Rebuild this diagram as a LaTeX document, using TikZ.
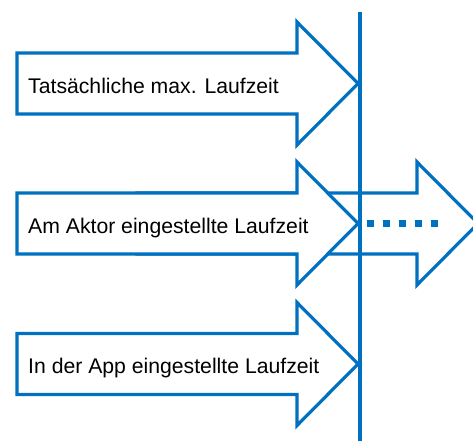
\documentclass[tikz,border=0pt]{standalone}
\usepackage{fontspec}
\setmainfont{Liberation Sans}
\definecolor{aktorblau}{RGB}{0,112,192}
\tikzset{
  pfeil/.style={draw=aktorblau, line width=3.2pt, fill=white, line join=miter},
  zeitlinie/.style={draw=aktorblau, line width=3.6pt},
  laufzeit/.style={anchor=base west, inner sep=0pt, font=\fontsize{21.2}{25}\selectfont}
}
\begin{document}
\begin{tikzpicture}[x=1pt, y=-1pt]
  \clip (0,0) rectangle (473,441);
  % Verlaengerung hinter dem mittleren Pfeil
  \draw[pfeil] (137,193) -- (417,193) -- (417,162) -- (478,223.5)
    -- (417,285) -- (417,254) -- (137,254) -- cycle;
  % drei Laufzeit-Pfeile
  \foreach \c/\n/\txt in {83.5/t1/Tatsächliche max. Laufzeit,
                          223.5/t2/Am Aktor eingestellte Laufzeit,
                          364/t3/In der App eingestellte Laufzeit} {
    \draw[pfeil] (17,\c-30.5) -- (297,\c-30.5) -- (297,\c-61.5) -- (358,\c)
      -- (297,\c+61.5) -- (297,\c+30.5) -- (17,\c+30.5) -- cycle;
    \node[laufzeit] (\n) at (28,\c+9.6) {\txt};
  }
  % Grenze
  \draw[zeitlinie] (360,12) -- (360,441);
  \draw[aktorblau, line width=7.5pt, dash pattern=on 7.5pt off 8.5pt]
    (366.7,223.5) -- (438.5,223.5);
\end{tikzpicture}
\end{document}
